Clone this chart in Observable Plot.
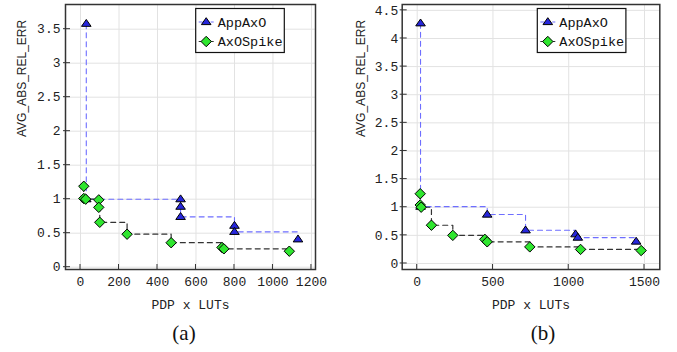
<!DOCTYPE html>
<html><head><meta charset="utf-8">
<script src="https://cdn.jsdelivr.net/npm/d3@7"></script>
<script src="https://cdn.jsdelivr.net/npm/@observablehq/plot@0.6"></script>
<style>
body{margin:0;background:#fff;}
#wrap{position:relative;width:677px;height:352px;overflow:hidden;background:#fff;}
.panel{position:absolute;top:0;}
.cap{position:absolute;top:323px;font-family:"Liberation Serif",serif;font-size:21px;line-height:21px;transform:translateX(-50%);color:#111;}
</style></head><body>
<div id="wrap"></div>
<script>
const yLabel = "AVG_ABS_REL_ERR";
const xLabel = "PDP x LUTs";
const seriesNames = ["AppAxO", "AxOSpike"];
const captions = ["(a)", "(b)"];

// panel (a)
const aAppX = [30, 30, 520, 520, 520, 800, 800, 1130];
const aAppY = [3.58, 1.0, 1.0, 0.89, 0.74, 0.61, 0.52, 0.41];
const aSpkX = [17, 17, 27, 95, 95, 100, 242, 471, 735, 745, 1085];
const aSpkY = [1.19, 1.01, 1.0, 0.99, 0.88, 0.66, 0.485, 0.36, 0.29, 0.27, 0.235];
const aXTicks = [0, 200, 400, 600, 800, 1000, 1200];
const aYTicks = [0, 0.5, 1, 1.5, 2, 2.5, 3, 3.5];

// panel (b)
const bAppX = [22, 22, 462, 715, 1045, 1060, 1445];
const bAppY = [4.27, 1.01, 0.87, 0.59, 0.52, 0.46, 0.39];
const bSpkX = [20, 20, 26, 94, 235, 446, 462, 743, 1078, 1478];
const bSpkY = [1.24, 1.04, 1.0, 0.68, 0.50, 0.43, 0.385, 0.295, 0.25, 0.23];
const bXTicks = [0, 500, 1000, 1500];
const bYTicks = [0, 0.5, 1, 1.5, 2, 2.5, 3, 3.5, 4, 4.5];

const APP_FILL = "#2626dc", APP_LINE = "#6e6eff";
const SPK_FILL = "#2fe62f", SPK_LINE = "#333333";

const tri = {draw(ctx){ ctx.moveTo(0,-4.3); ctx.lineTo(4.8,2.6); ctx.lineTo(-4.8,2.6); ctx.closePath(); }};
const dia = {draw(ctx){ ctx.moveTo(0,-5.2); ctx.lineTo(5.2,0); ctx.lineTo(0,5.2); ctx.lineTo(-5.2,0); ctx.closePath(); }};
const fmt = d => String(d);

function panel(o) {
  const app = o.appX.map((x, i) => ({x, y: o.appY[i]}));
  const spk = o.spkX.map((x, i) => ({x, y: o.spkY[i]}));
  const H = 315, mT = 4, mB = 46;
  const plot = Plot.plot({
    width: o.width, height: H,
    marginLeft: o.mL, marginRight: o.mR, marginTop: mT, marginBottom: mB,
    style: {fontFamily: "'Liberation Mono', monospace", fontSize: "13px", color: "#222", background: "white", overflow: "visible"},
    x: {domain: o.xDomain, ticks: o.xTicks, tickFormat: fmt},
    y: {domain: o.yDomain, ticks: o.yTicks, tickFormat: fmt},
    marks: [
      Plot.gridX(o.xTicks, {stroke: "#e2e2e2", strokeOpacity: 1, strokeWidth: 1}),
      Plot.gridY(o.yTicks, {stroke: "#e2e2e2", strokeOpacity: 1, strokeWidth: 1}),
      Plot.axisX(o.xTicks, {tickSize: 0, tickPadding: 7, label: null, fontSize: 13, tickFormat: fmt}),
      Plot.axisY(o.yTicks, {tickSize: 0, tickPadding: o.yPad, label: null, fontSize: 13, tickFormat: fmt}),
      Plot.line(app, {x: "x", y: "y", curve: "step-after", stroke: APP_LINE, strokeDasharray: "5,4", strokeWidth: 1.1}),
      Plot.line(spk, {x: "x", y: "y", curve: "step-after", stroke: SPK_LINE, strokeDasharray: "5,4", strokeWidth: 1.2}),
      Plot.dot(app, {x: "x", y: "y", symbol: tri, r: 4, fill: APP_FILL, stroke: "#000", strokeWidth: 1}),
      Plot.dot(spk, {x: "x", y: "y", symbol: dia, r: 5, fill: SPK_FILL, stroke: "#000", strokeWidth: 1}),
      Plot.frame({stroke: "#333", strokeWidth: 1.5}),
      Plot.text([xLabel], {text: d => d, frameAnchor: "bottom", dy: 35, lineAnchor: "middle", fontSize: 13, fill: "#222"}),
      Plot.text([yLabel], {text: d => d, frameAnchor: "left", dx: o.yLabDx, rotate: -90, lineAnchor: "middle", fontFamily: "'Liberation Sans', Arial, sans-serif", fontSize: 12, fill: "#222"})
    ]
  });
  const svg = d3.select(plot);
  const sx = plot.scale("x"), sy = plot.scale("y");
  const bottom = H - mB, left = o.mL;
  const tk = svg.append("g").attr("stroke", "#333").attr("stroke-width", 1);
  o.xTicks.forEach(t => { const px = sx.apply(t); tk.append("line").attr("x1", px).attr("x2", px).attr("y1", bottom).attr("y2", bottom - 5); });
  o.yTicks.forEach(t => { const py = sy.apply(t); tk.append("line").attr("x1", left - 2).attr("x2", left + 5).attr("y1", py).attr("y2", py); });

  // legend
  const g = svg.append("g").attr("transform", `translate(${o.legX},8.5)`).attr("text-anchor", "start");
  g.append("rect").attr("width", 88.6).attr("height", 44).attr("fill", "white").attr("stroke", "#111").attr("stroke-width", 1.2);
  const entries = [
    {name: seriesNames[0], line: APP_LINE, fill: APP_FILL, sym: d3.symbol({draw: tri.draw})(), y: 13.5},
    {name: seriesNames[1], line: SPK_LINE, fill: SPK_FILL, sym: d3.symbol({draw: dia.draw})(), y: 33}
  ];
  entries.forEach(e => {
    g.append("line").attr("x1", 3).attr("x2", 18).attr("y1", e.y).attr("y2", e.y).attr("stroke", e.line).attr("stroke-dasharray", "4,2").attr("stroke-width", 1.1);
    g.append("path").attr("d", e.sym).attr("transform", `translate(${o.legMx},${e.y})`).attr("fill", e.fill).attr("stroke", "#000").attr("stroke-width", 1);
    g.append("text").attr("x", o.legTx).attr("y", e.y).attr("dy", "0.35em").attr("text-anchor", "start").attr("font-size", 13.5).attr("fill", "#111").text(e.name);
  });
  return plot;
}

const wrap = document.getElementById("wrap");
const pa = panel({appX: aAppX, appY: aAppY, spkX: aSpkX, spkY: aSpkY, xTicks: aXTicks, yTicks: aYTicks,
  xDomain: [-78, 1221], yDomain: [-0.034, 3.863], width: 338, mL: 65, mR: 23, yPad: 5, yLabDx: -43.3,
  legX: 195.7, legMx: 10.5, legTx: 22});
const pb = panel({appX: bAppX, appY: bAppY, spkX: bSpkX, spkY: bSpkY, xTicks: bXTicks, yTicks: bYTicks,
  xDomain: [-99, 1601], yDomain: [-0.107, 4.604], width: 338, mL: 62.7, mR: 17.7, yPad: 4, yLabDx: -41,
  legX: 198.3, legMx: 10.5, legTx: 22});
const da = document.createElement("div"); da.className = "panel"; da.style.left = "0px"; da.appendChild(pa); wrap.appendChild(da);
const db = document.createElement("div"); db.className = "panel"; db.style.left = "339px"; db.appendChild(pb); wrap.appendChild(db);
[[captions[0], 184], [captions[1], 543]].forEach(([t, x]) => {
  const c = document.createElement("div"); c.className = "cap"; c.style.left = x + "px"; c.textContent = t; wrap.appendChild(c);
});
</script>
</body></html>
